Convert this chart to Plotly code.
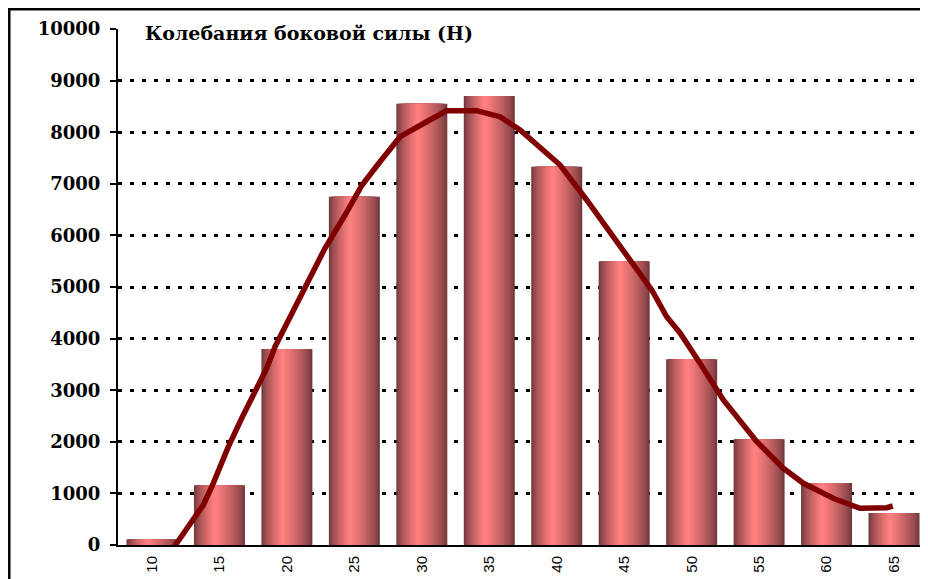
import plotly.graph_objects as go

# Колебания боковой силы — столбцы и сглаженная кривая
categories = [10, 15, 20, 25, 30, 35, 40, 45, 50, 55, 60, 65]
bar_values = [110, 1160, 3800, 6750, 8550, 8700, 7330, 5500, 3600, 2050, 1200, 620]

curve_x = [11.5, 13.8, 14.54, 15.66, 16.65, 17.76, 18.5, 19.12, 19.99, 21.47,
           22.82, 24.31, 25.57, 26.9, 28.39, 30.36, 31.85, 34.07, 35.8, 37.28,
           39.01, 40.25, 42.22, 44.2, 45.68, 47.04, 48.15, 49.14, 50.62, 52.35,
           54.83, 56.8, 58.28, 60.5, 62.48, 64.46, 64.91]
curve_y = [-90, 775, 1196, 1905, 2455, 3068, 3424, 3843, 4297, 5100,
           5750, 6395, 6977, 7428, 7913, 8203, 8417, 8417, 8300, 8043,
           7655, 7364, 6686, 5975, 5459, 4942, 4424, 4109, 3521, 2810,
           2002, 1486, 1196, 905, 711, 723, 756]

y_ticks = [0, 1000, 2000, 3000, 4000, 5000, 6000, 7000, 8000, 9000, 10000]

fig = go.Figure()

# псевдо-градиент столбцов: несколько наложенных столбцов всё уже и светлее
bar_w = 3.78
n_layers = 14
dark = (118, 58, 62)
light = (255, 128, 128)
for k in range(n_layers):
    t = (k / (n_layers - 1)) ** 0.75
    col = tuple(int(dark[i] + (light[i] - dark[i]) * t) for i in range(3))
    w = bar_w * (1 - k / n_layers)
    shift = 0.08 * bar_w * (k / (n_layers - 1))
    fig.add_trace(go.Bar(
        x=categories, y=bar_values,
        width=w, offset=-w / 2 - shift,
        marker=dict(color="rgb(%d,%d,%d)" % col, line=dict(width=0)),
        showlegend=False, hoverinfo="skip" if k else None,
    ))

fig.add_trace(go.Scatter(
    x=curve_x, y=curve_y, mode="lines",
    line=dict(color="#800000", width=5.5),
    cliponaxis=False, showlegend=False,
))

# страница имеет отступ 8px, поэтому фигура чуть меньше окна
fig.update_layout(
    width=920, height=571,
    margin=dict(l=110, r=7, t=21, b=34),
    paper_bgcolor="white", plot_bgcolor="white",
    barmode="overlay",
    showlegend=False,
    xaxis=dict(
        range=[7.48, 67.0],
        tickvals=categories,
        ticktext=[str(c) for c in categories],
        tickangle=-90,
        tickfont=dict(family="Liberation Sans", size=15, color="black"),
        showgrid=False, zeroline=False,
        showline=True, linecolor="black", linewidth=2,
        ticks="", automargin=False,
        ticklabelstandoff=3,
    ),
    yaxis=dict(
        range=[0, 10000],
        tickvals=y_ticks,
        ticktext=[str(v) for v in y_ticks],
        tickfont=dict(family="DejaVu Serif", size=18, color="black", weight="bold"),
        showgrid=True, gridcolor="black", gridwidth=2.5, griddash="4px,8px",
        zeroline=False,
        showline=True, linecolor="black", linewidth=2,
        ticks="outside", ticklen=6, tickwidth=1.5, tickcolor="black",
        ticklabelstandoff=6, automargin=False,
    ),
    annotations=[dict(
        text="Колебания боковой силы (Н)",
        xref="paper", yref="paper", x=0.031, y=0.992,
        xanchor="left", yanchor="middle", showarrow=False,
        bgcolor="white",
        font=dict(family="DejaVu Serif", size=19, color="black", weight="bold"),
    )],
    shapes=[dict(
        type="path", xref="paper", yref="paper",
        path="M -0.1354 -0.2 L -0.1354 1.0383 L 1.2 1.0383",
        line=dict(color="black", width=2.5),
    )],
)

fig.write_html("out.html")
